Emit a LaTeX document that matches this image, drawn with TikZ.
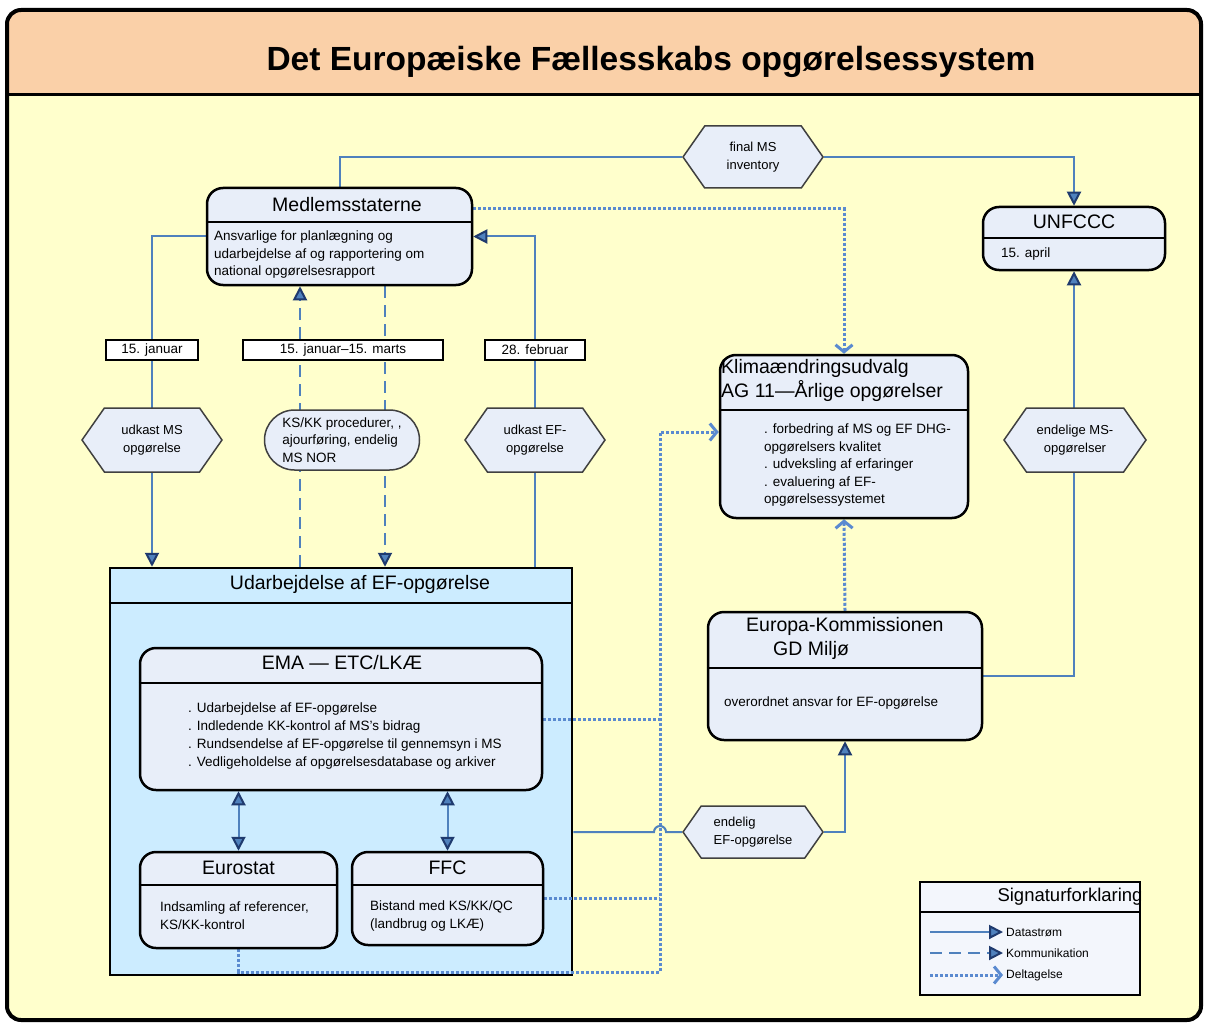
\documentclass[tikz,border=0pt]{standalone}
\usepackage{fontspec}
\setmainfont{Liberation Sans}
\usetikzlibrary{arrows.meta,
                shapes.misc,
                shapes.symbols,
                backgrounds}

\definecolor{lineblue}{HTML}{4F81BD}
\definecolor{tipline}{HTML}{1F3A6E}
\definecolor{dotblue}{HTML}{5A8AD0}
\definecolor{boxfill}{HTML}{E8EEF9}
\definecolor{udfill}{HTML}{CCECFF}
\definecolor{titlefill}{HTML}{FAD0A8}
\definecolor{bodyfill}{HTML}{FFFFCC}
\definecolor{hexline}{HTML}{404040}

\begin{document}
\begin{tikzpicture}%
            [x=1pt, y=-1pt,
             >={Triangle[length=14pt, width=14pt, color=tipline, fill=lineblue]},
             box/.style = {draw, line width=2.5pt, fill=boxfill, rounded corners=16pt, inner sep=0pt},
             hexa/.style = {draw=hexline, line width=1.5pt, fill=boxfill, signal, signal to=west and east,
                            signal pointer angle=110, minimum width=140pt, minimum height=64pt,
                            inner sep=0pt, align=center, font=\fontsize{13}{18}\selectfont},
             lbl/.style = {draw, line width=1.5pt, fill=white, minimum height=20pt, inner sep=0pt,
                           font=\fontsize{13.5}{15}\selectfont},
             head/.style = {font=\fontsize{19.5}{24}\selectfont, inner sep=0pt},
             txt/.style = {font=\fontsize{13.5}{17.5}\selectfont, align=left, inner sep=0pt},
             sep/.style = {line width=2.5pt},
             flow/.style = {draw=lineblue, line width=2pt},
             talk/.style = {flow, dash pattern=on 12pt off 7pt},
             part/.style = {draw=dotblue, line width=3pt, dash pattern=on 3pt off 2pt},
             partarrow/.style = {part, -{Straight Barb[length=7pt, width=17pt]}}]

            \useasboundingbox (0,0) rectangle (1206,1024);

            \begin{scope}[on background layer]
                \begin{scope}
                    \clip[rounded corners=14pt] (7,10) rectangle (1201,1020);
                    \fill[bodyfill] (7,10) rectangle (1201,1020);
                    \fill[titlefill] (7,10) rectangle (1201,95);
                \end{scope}
                \draw[line width=3pt] (7,95) -- (1201,95);
                \draw[line width=4pt, rounded corners=14pt] (7,10) rectangle (1201,1020);

                \node [draw, line width=2.5pt, fill=udfill, minimum width=462pt, minimum height=407pt] (ud) at (341,771.5) {};
            \end{scope}

            \node [font=\fontsize{33.5}{40}\bfseries] (title) at (651,62) {Det Europæiske Fællesskabs opgørelsessystem};

            % Medlemsstaterne
            \node [box, minimum width=265pt, minimum height=97pt] (ms) at (339.5,236.5) {};
            \node [head] (mshead) at (347,205) {Medlemsstaterne};
            \draw [sep] (ms.west |- 0,222) -- (ms.east |- 0,222);
            \node [txt, anchor=north west] (msbody) at (214,231)
                {Ansvarlige for planlægning og\\udarbejdelse af og rapportering om\\national opgørelsesrapport};

            \node [hexa, minimum height=62pt] (fin) at (753,157) {final MS\\inventory};

            % UNFCCC
            \node [box, minimum width=182pt, minimum height=63pt] (un) at (1074,238.5) {};
            \node [head] (unhead) at (1074,222) {UNFCCC};
            \draw [sep] (un.west |- 0,238) -- (un.east |- 0,238);
            \node [txt, anchor=west] (unbody) at (1001,254) {15. april};

            \node [lbl, minimum width=92pt] (jan) at (152,350) {15. januar};
            \node [lbl, minimum width=200pt] (janmar) at (343,350) {15. januar–15. marts};
            \node [lbl, minimum width=100pt] (feb) at (535,350) {28. februar};

            \node [hexa] (msdraft) at (152,440) {udkast MS\\opgørelse};
            \node [draw=hexline, line width=1.5pt, fill=boxfill, rounded rectangle, minimum width=155pt,
                   minimum height=60pt, inner sep=0pt, txt] (ks) at (342,440)
                {KS/KK procedurer, ,\\ajourføring, endelig\\MS NOR};
            \node [hexa] (efdraft) at (535,440) {udkast EF-\\opgørelse};
            \coordinate (kl1) at (300,440);
            \coordinate (kl2) at (385,440);

            % Klimaaendringsudvalg
            \node [box, minimum width=248pt, minimum height=163pt] (kl) at (844,436.5) {};
            \node [head, align=left, anchor=west] (klhead) at (721,380)
                {Klimaændringsudvalg\\ AG 11—Årlige opgørelser};
            \draw [sep] (kl.west |- 0,410) -- (kl.east |- 0,410);
            \node [txt, anchor=north west] (klbody) at (764,424)
                {. forbedring af MS og EF DHG-\\opgørelsers kvalitet\\. udveksling af erfaringer\\. evaluering af EF-\\opgørelsessystemet};

            \node [hexa, minimum width=142pt] (mso) at (1075,440) {endelige MS-\\opgørelser};

            % Udarbejdelse af EF-opgoerelse
            \node [head] (udhead) at (360,584) {Udarbejdelse af EF-opgørelse};
            \draw [sep] (ud.west |- 0,603) -- (ud.east |- 0,603);

            \node [box, minimum width=402pt, minimum height=142pt] (ema) at (341,719) {};
            \node [head] (emahead) at (342,663) {EMA — ETC/LKÆ};
            \draw [sep] (ema.west |- 0,683) -- (ema.east |- 0,683);
            \node [txt, anchor=north west, font=\fontsize{13.5}{18}\selectfont] (emabody) at (188,703)
                {. Udarbejdelse af EF-opgørelse\\. Indledende KK-kontrol af MS's bidrag\\. Rundsendelse af EF-opgørelse til gennemsyn i MS\\. Vedligeholdelse af opgørelsesdatabase og arkiver};

            \node [box, minimum width=197pt, minimum height=96pt] (eurostat) at (238.5,900) {};
            \node [head] (eurostathead) at (238.5,868) {Eurostat};
            \draw [sep] (eurostat.west |- 0,885) -- (eurostat.east |- 0,885);
            \node [txt, anchor=north west] (eurostatbody) at (160,902)
                {Indsamling af referencer,\\KS/KK-kontrol};

            \node [box, minimum width=191pt, minimum height=93pt] (ffc) at (447.5,898.5) {};
            \node [head] (ffchead) at (447.5,868) {FFC};
            \draw [sep] (ffc.west |- 0,885) -- (ffc.east |- 0,885);
            \node [txt, anchor=north west] (ffcbody) at (370,901)
                {Bistand med KS/KK/QC\\(landbrug og LKÆ)};

            % Europa-Kommissionen
            \node [box, minimum width=274pt, minimum height=128pt] (ek) at (845,676) {};
            \node [head, align=left, anchor=north west] (ekhead) at (746,617)
                {Europa-Kommissionen\\\hspace*{27pt}GD Miljø};
            \draw [sep] (ek.west |- 0,668) -- (ek.east |- 0,668);
            \node [txt, anchor=west] (ekbody) at (724,703) {overordnet ansvar for EF-opgørelse};

            \node [hexa, minimum height=52pt, align=left] (final) at (753,832) {endelig\\EF-opgørelse};

            % Signaturforklaring
            \node [draw, line width=1.5pt, fill=boxfill!50!white, minimum width=220pt, minimum height=113pt] (legend) at (1030,938.5) {};
            \node [head, font=\fontsize{18.5}{22}\selectfont] (legendhead) at (1070,897) {Signaturforklaring};
            \draw [line width=1.5pt] (legend.west |- 0,912) -- (legend.east |- 0,912);
            \coordinate (l1a) at (930,932);
            \coordinate (l1b) at (1003,932);
            \coordinate (l2a) at (930,953);
            \coordinate (l2b) at (1003,953);
            \coordinate (l3a) at (930,975);
            \coordinate (l3b) at (1003,975);
            \node [txt, anchor=west, font=\fontsize{12}{14}\selectfont] (lt1) at (1006,932) {Datastrøm};
            \node [txt, anchor=west, font=\fontsize{12}{14}\selectfont] (lt2) at (1006,953) {Kommunikation};
            \node [txt, anchor=west, font=\fontsize{12}{14}\selectfont] (lt3) at (1006,975) {Deltagelse};

            \coordinate (jn) at (660,432);
            \coordinate (jb) at (660,972);
            \coordinate (hop) at (654,832);

            \begin{scope}[on background layer]
                \draw [flow] (ms.north) |- (fin.west);
                \draw [flow, ->] (fin.east) -| (un.north);
                \draw [partarrow] ([yshift=28pt]ms.east) -| (kl.north);
                \draw [flow, ->] (ms.west) -| (msdraft |- ud.north);
                \draw [talk, ->] (kl1 |- ud.north) -- (kl1 |- ms.south);
                \draw [talk, ->] (kl2 |- ms.south) -- (kl2 |- ud.north);
                \draw [flow, ->] (efdraft |- ud.north) |- (ms.east);
                \draw [partarrow] (ema.east) -| (jn) -- (jn -| kl.west);
                \draw [part] (ffc.east) -- (ffc.east -| jn);
                \draw [part] (eurostat.south) |- (jb) -- (jn);
                \draw [partarrow] (ek.north) -- (kl.south);
                \draw [flow, ->] (ek.east) -| (un.south);
                \draw [flow] (ud.east |- final) -- (hop) arc (180:360:6) -- (final.west);
                \draw [flow, ->] (final.east) -| (ek.south);
                \draw [flow, <->] (eurostat.north) -- (eurostat.north |- ema.south);
                \draw [flow, <->] (ffc.north) -- (ffc.north |- ema.south);
            \end{scope}

            \draw [flow, ->] (l1a) -- (l1b);
            \draw [talk, ->] (l2a) -- (l2b);
            \draw [partarrow] (l3a) -- (l3b);

        \end{tikzpicture}
\end{document}
